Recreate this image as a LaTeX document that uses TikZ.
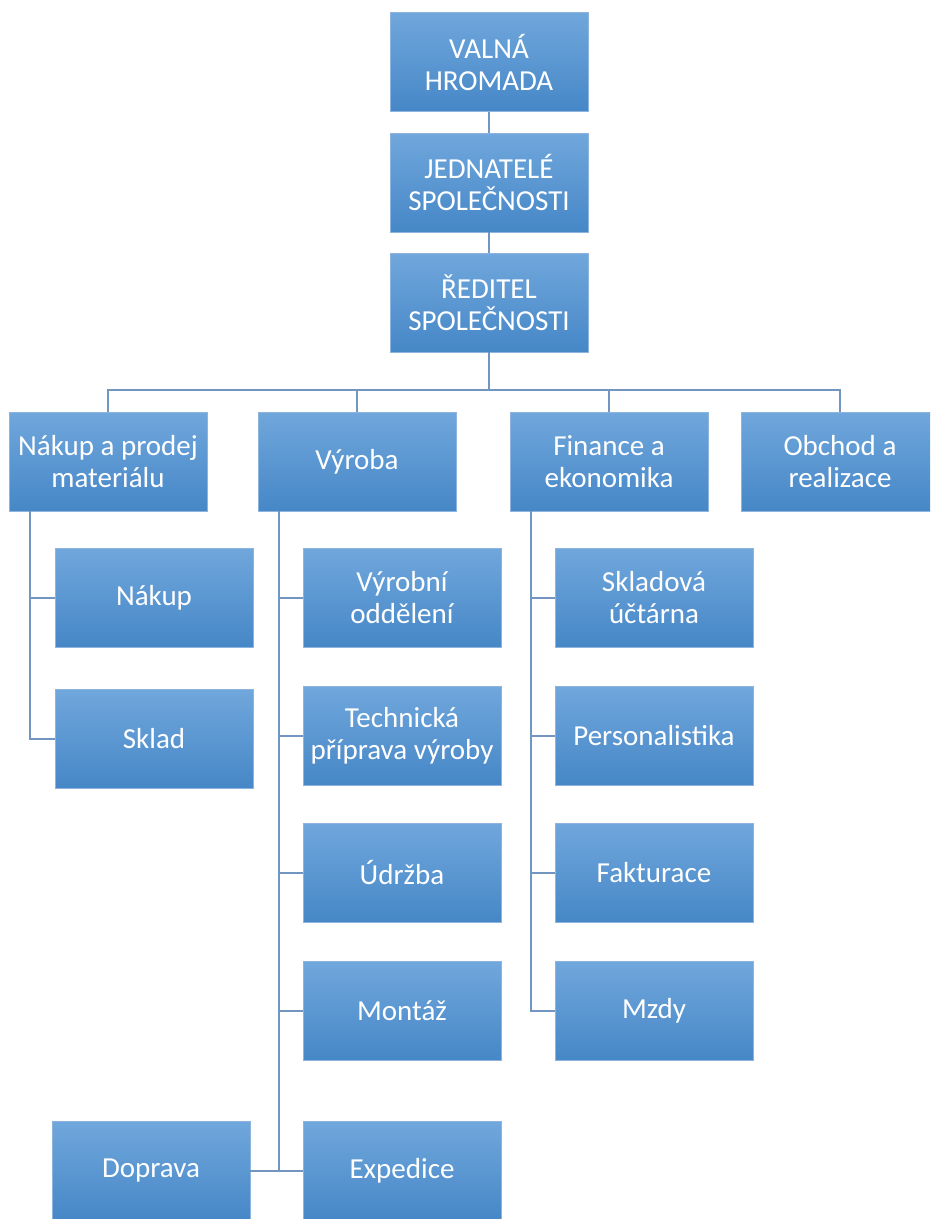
\documentclass[tikz,border=0pt]{standalone}
\usepackage{fontspec}
\setmainfont{Carlito}
\usepackage{tikz}
\usetikzlibrary{calc}

\definecolor{boxtop}{HTML}{70A7DC}
\definecolor{boxmid}{HTML}{579BDC}
\definecolor{boxbot}{HTML}{4687C7}
\definecolor{boxrim}{HTML}{8EB4DE}
\definecolor{linkblue}{HTML}{7296C0}

\tikzset{
  orgbox/.style={rectangle, draw=boxrim, line width=0.8pt,
    top color=boxtop, middle color=boxmid, bottom color=boxbot,
    minimum width=198pt, minimum height=99pt, inner sep=0pt,
    align=center, text=white,
    font=\fontsize{29}{32}\selectfont},
  link/.style={draw=linkblue, line width=2pt}
}

\begin{document}
\begin{tikzpicture}[x=1pt,y=-1pt]
    \clip (0,0) rectangle (930,1219);
    \fill[white] (0,0) rectangle (930,1219);
    % vedeni
    \node[orgbox] (valna) at (489,62) {VALNÁ\\HROMADA};
    \node[orgbox] (jednatele) at (489,182.5) {JEDNATELÉ\\SPOLEČNOSTI};
    \node[orgbox] (reditel) at (489,302.5) {ŘEDITEL\\SPOLEČNOSTI};
    % useky
    \node[orgbox] (nakprod) at (108,461.5) {Nákup a prodej\\materiálu};
    \node[orgbox] (vyroba) at (357,461.5) {Výroba};
    \node[orgbox] (finance) at (609,461.5) {Finance a\\ekonomika};
    \node[orgbox] (obchod) at (840,461.5) {Obchod a\\realizace};
    % oddeleni
    \node[orgbox] (nakup) at (154,597.5) {Nákup};
    \node[orgbox] (sklad) at (154,739) {Sklad};
    \node[orgbox] (vyrodd) at (402,597.5) {Výrobní\\oddělení};
    \node[orgbox] (techpr) at (402,735.5) {Technická\\příprava výroby};
    \node[orgbox] (udrzba) at (402,872.5) {Údržba};
    \node[orgbox] (montaz) at (402,1011) {Montáž};
    \node[orgbox] (expedice) at (402,1171) {Expedice};
    \node[orgbox] (doprava) at (151,1171) {Doprava};
    \node[orgbox] (sklucto) at (654,597.5) {Skladová\\účtárna};
    \node[orgbox] (personal) at (654,735.5) {Personalistika};
    \node[orgbox] (faktura) at (654,872.5) {Fakturace};
    \node[orgbox] (mzdy) at (654,1011) {Mzdy};

    \coordinate (bus) at (489,390);
    \path[link]
      (valna) -- (jednatele)
      (jednatele) -- (reditel)
      (reditel.south) -- (bus)
      (bus) -| (nakprod.north)
      (bus) -| (vyroba.north)
      (bus) -| (finance.north)
      (bus) -| (obchod.north)
      ([xshift=-78pt]nakprod.south) |- (nakup.west)
      ([xshift=-78pt]nakprod.south) |- (sklad.west)
      ([xshift=-78pt]vyroba.south) |- (vyrodd.west)
      ([xshift=-78pt]vyroba.south) |- (techpr.west)
      ([xshift=-78pt]vyroba.south) |- (udrzba.west)
      ([xshift=-78pt]vyroba.south) |- (montaz.west)
      ([xshift=-78pt]vyroba.south) |- (expedice.west)
      (doprava.east) -- (expedice.west)
      ([xshift=-78pt]finance.south) |- (sklucto.west)
      ([xshift=-78pt]finance.south) |- (personal.west)
      ([xshift=-78pt]finance.south) |- (faktura.west)
      ([xshift=-78pt]finance.south) |- (mzdy.west);
  \end{tikzpicture}
\end{document}
